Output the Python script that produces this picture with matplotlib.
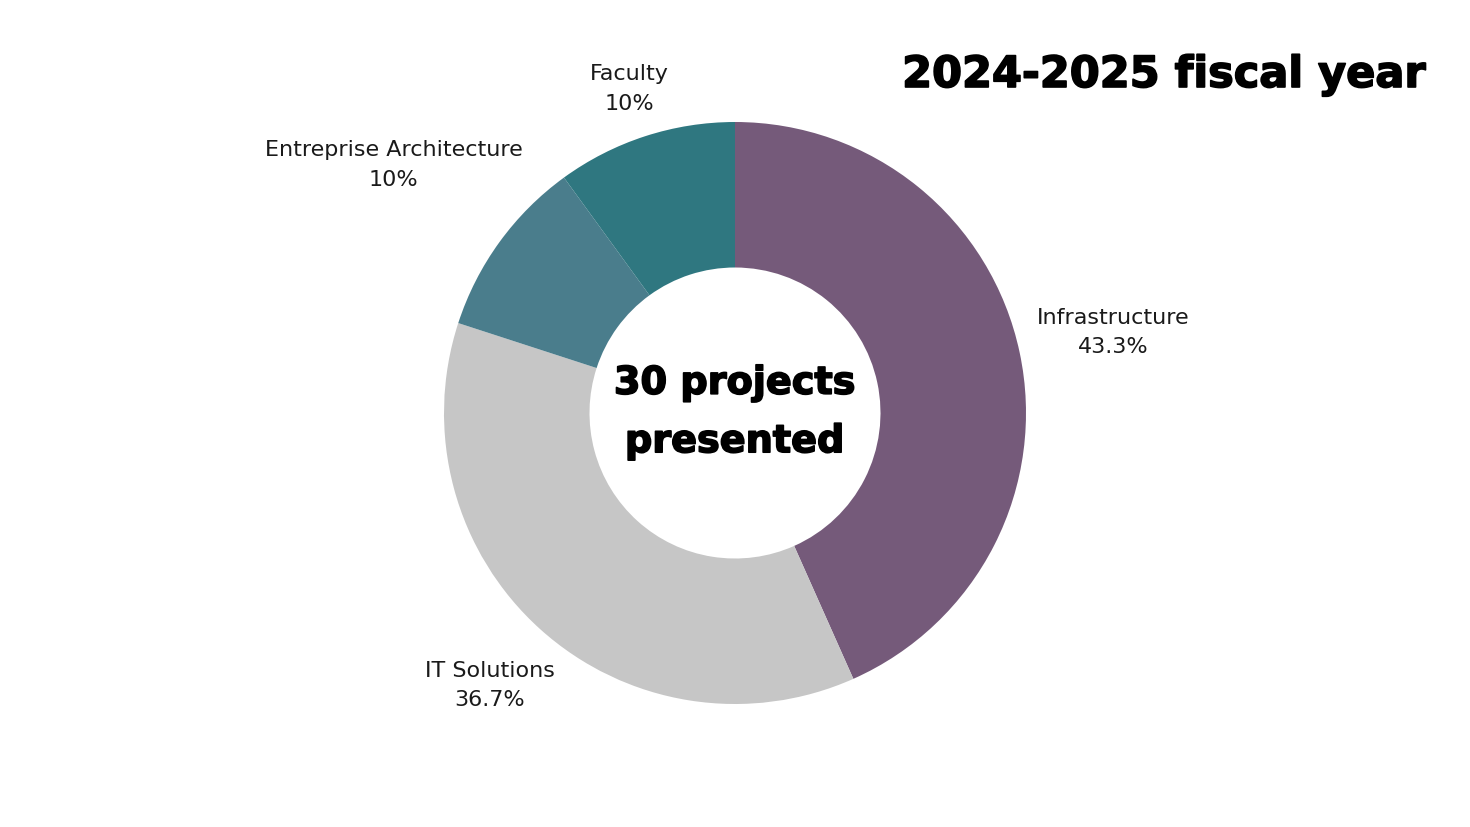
import numpy as np
import matplotlib
matplotlib.use('Agg')
import matplotlib.pyplot as plt
import matplotlib.patheffects as pe

categories = ['Infrastructure', 'IT Solutions', 'Entreprise Architecture', 'Faculty']
projects = [13, 11, 3, 3]
percent_labels = ['43.3%', '36.7%', '10%', '10%']
colors = ['#755a7a', '#c6c6c6', '#4a7d8c', '#2f7780']
label_dist = [1.33, 1.26, 1.45, 1.17]

W, H = 1470, 827
fig = plt.figure(figsize=(W / 100, H / 100), dpi=100)
cx, cy, r = 735, 413, 291
ax = fig.add_axes([(cx - r) / W, (H - cy - r) / H, 2 * r / W, 2 * r / H])

wedges, _ = ax.pie(projects, colors=colors, startangle=90, counterclock=False,
                   radius=1, wedgeprops=dict(width=0.5, linewidth=0))
ax.set_xlim(-1, 1)
ax.set_ylim(-1, 1)
ax.set_aspect('equal')
ax.axis('off')

for w, name, pct, d in zip(wedges, categories, percent_labels, label_dist):
    ang = np.deg2rad((w.theta1 + w.theta2) / 2)
    ax.text(d * np.cos(ang), d * np.sin(ang), f'{name}\n{pct}', ha='center', va='center',
            fontsize=16, family='DejaVu Sans', color='#1a1a1a', linespacing=1.6)

heavy = [pe.withStroke(linewidth=1.2, foreground='black')]
ax.text(0, 0, '30 projects\npresented', ha='center', va='center', fontsize=27.5,
        family='DejaVu Sans', fontweight='bold', linespacing=1.8, path_effects=heavy)

fig.text(1425 / W, 1 - 75 / H, '2024-2025 fiscal year', ha='right', va='center',
         fontsize=31, family='DejaVu Sans', fontweight='bold', path_effects=heavy)

fig.savefig('out.png', dpi=100, facecolor='white')
